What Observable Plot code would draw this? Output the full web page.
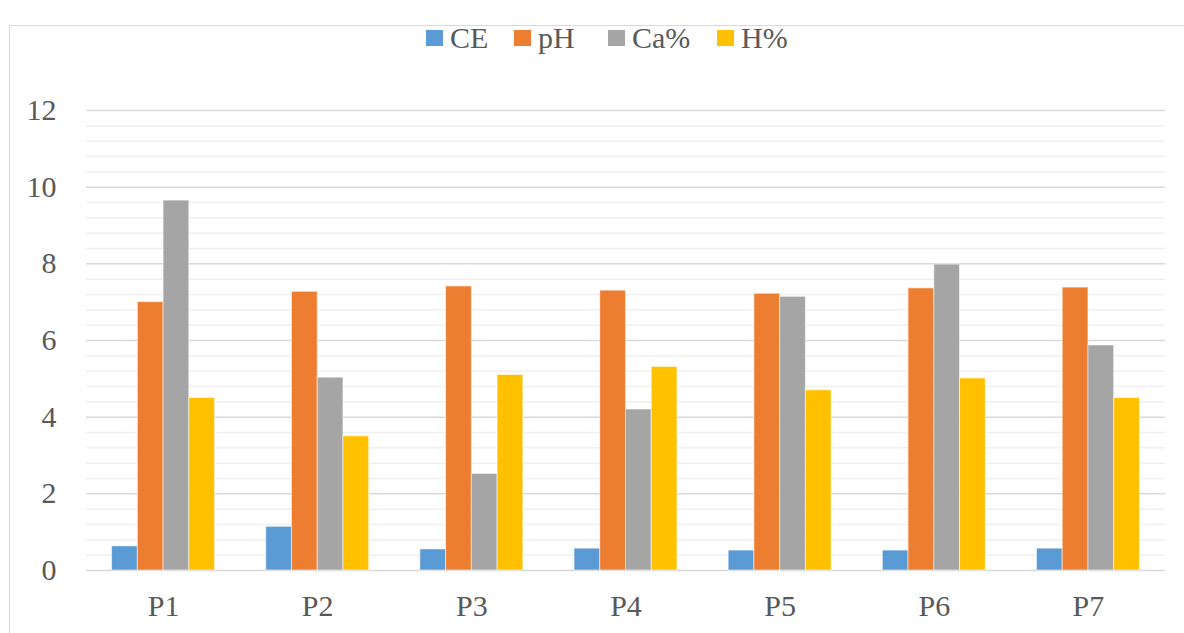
<!DOCTYPE html>
<html>
<head>
<meta charset="utf-8">
<script src="https://cdn.jsdelivr.net/npm/d3@7"></script>
<script src="https://cdn.jsdelivr.net/npm/@observablehq/plot@0.6"></script>
<style>
  html, body { margin: 0; padding: 0; background: #ffffff; }
  #wrap { position: relative; width: 1184px; height: 633px; overflow: hidden; font-family: "Liberation Serif", "Times New Roman", serif; color: #595959; }
  #frame { position: absolute; left: 9px; top: 25px; width: 1200px; height: 700px; border: 1px solid #d9d9d9; box-sizing: border-box; }
  .layer { position: absolute; left: 0; top: 0; }
  .leg { position: absolute; top: 23px; height: 30px; display: flex; align-items: center; font-size: 30px; line-height: 30px; white-space: nowrap; }
  .sw { width: 17px; height: 16px; margin-right: 7px; }
</style>
</head>
<body>
<div id="wrap">
  <div id="frame"></div>
  <div id="bg" class="layer"></div>
  <div id="fg" class="layer"></div>
  <div id="legend"></div>
</div>
<script>
const categories = ["P1", "P2", "P3", "P4", "P5", "P6", "P7"];
const series = ["CE", "pH", "Ca%", "H%"];
const CE = [0.63, 1.14, 0.55, 0.57, 0.52, 0.52, 0.57];
const pH = [7.00, 7.27, 7.41, 7.30, 7.22, 7.36, 7.38];
const Ca = [9.65, 5.03, 2.52, 4.20, 7.14, 7.98, 5.87];
const H  = [4.50, 3.50, 5.10, 5.31, 4.70, 5.01, 4.50];
const colors = ["#5b9bd5", "#ed7d31", "#a5a5a5", "#ffc000"];
const yTicks = [0, 2, 4, 6, 8, 10, 12];
const yMinorTicks = [0.4, 0.8, 1.2, 1.6, 2.4, 2.8, 3.2, 3.6, 4.4, 4.8, 5.2, 5.6, 6.4, 6.8, 7.2, 7.6, 8.4, 8.8, 9.2, 9.6, 10.4, 10.8, 11.2, 11.6];

const valuesBySeries = [CE, pH, Ca, H];
const data = categories.flatMap((c, i) => series.map((s, j) => ({cat: c, series: s, value: valuesBySeries[j][i]})));

const W = 1184, Hh = 633;
const M = {marginLeft: 86, marginRight: 19, marginTop: 110, marginBottom: 63};
const fontStyle = {fontFamily: "'Liberation Serif', 'Times New Roman', serif", fontSize: "30px", color: "#595959", overflow: "visible"};

const bg = Plot.plot({
  width: W, height: Hh, ...M,
  style: {background: "transparent", ...fontStyle},
  x: {domain: [0, 1], axis: null},
  y: {domain: [0, 12], axis: null},
  marks: [
    Plot.ruleY(yMinorTicks, {stroke: "#f0f0f0", strokeWidth: 1.5}),
    Plot.ruleY(yTicks, {stroke: "#d9d9d9", strokeWidth: 1.5}),
    Plot.text(yTicks, {y: d => d, text: d => String(d), frameAnchor: "left", textAnchor: "end", dx: -30, fill: "#595959", fontSize: 30})
  ]
});
document.getElementById("bg").appendChild(bg);

const fg = Plot.plot({
  width: W, height: Hh, ...M,
  style: {background: "transparent", ...fontStyle},
  facet: {data: data, x: "cat"},
  fx: {domain: categories, paddingInner: 0.332, paddingOuter: 0.166, round: false, axis: "bottom", tickSize: 0, tickPadding: 24, label: null},
  x: {domain: series, padding: 0, round: false, axis: null},
  y: {domain: [0, 12], axis: null},
  color: {domain: series, range: colors},
  marks: [
    Plot.barY(data, {x: "series", y: "value", fill: "series", stroke: "#ffffff", strokeOpacity: 0.55, strokeWidth: 1})
  ]
});
document.getElementById("fg").appendChild(fg);

// Legend
const legendX = [426, 514, 608, 717];
const leg = document.getElementById("legend");
series.forEach((s, i) => {
  const item = document.createElement("div");
  item.className = "leg";
  item.style.left = legendX[i] + "px";
  const sw = document.createElement("span");
  sw.className = "sw";
  sw.style.background = colors[i];
  const t = document.createElement("span");
  t.textContent = s;
  item.appendChild(sw);
  item.appendChild(t);
  leg.appendChild(item);
});
</script>
</body>
</html>
